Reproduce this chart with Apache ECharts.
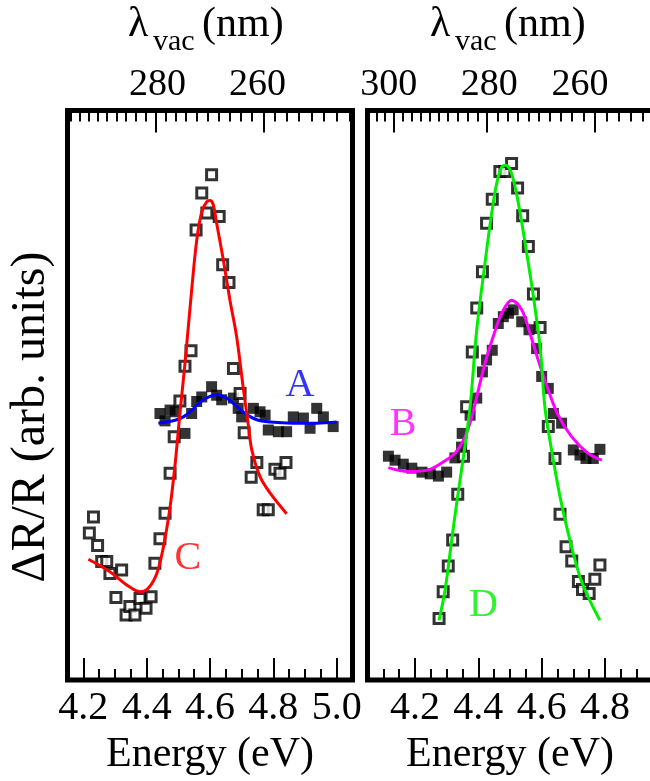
<!DOCTYPE html>
<html>
<head>
<meta charset="utf-8">
<script src="https://cdn.jsdelivr.net/npm/echarts@6/dist/echarts.min.js"></script>
<style>
  html, body { margin: 0; padding: 0; background: #fff; }
  #chart { width: 650px; height: 781px; }
  #fontwarm { position: absolute; left: -9999px; top: 0; font-family: 'Liberation Serif'; font-size: 40px; }
</style>
</head>
<body>
<div id="fontwarm">λΔ Energy (eV) 0123456789 vac nm arb. units ABCD</div>
<div id="chart"></div>
<script>
// ---- data: [energy (eV), dR/R (arb.)] ----
// left panel, filled squares (A)
const dataA = [
  [4.442, 46.8], [4.458, 45.5], [4.474, 47.4], [4.490, 47.1], [4.521, 43.3],
  [4.542, 46.8], [4.558, 48.9], [4.574, 49.7], [4.605, 51.5], [4.621, 50.0],
  [4.637, 49.2], [4.674, 49.5], [4.689, 47.7], [4.700, 46.2], [4.737, 47.7],
  [4.758, 47.1], [4.774, 46.5], [4.784, 43.9], [4.816, 43.6], [4.842, 43.6],
  [4.863, 46.2], [4.895, 46.0], [4.916, 44.2], [4.937, 47.7], [4.958, 46.2],
  [4.989, 44.5]
];
// left panel, open squares (C)
const dataC = [
  [4.219, 25.8], [4.232, 28.6], [4.245, 23.6], [4.258, 20.8], [4.274, 20.8],
  [4.284, 18.7], [4.303, 14.5], [4.321, 19.3], [4.335, 11.4], [4.347, 12.9],
  [4.363, 11.4], [4.379, 14.3], [4.398, 12.6], [4.414, 14.6], [4.426, 20.5],
  [4.442, 24.8], [4.458, 29.3], [4.474, 36.3], [4.487, 42.7], [4.505, 49.0],
  [4.521, 55.1], [4.540, 57.8], [4.556, 79.0], [4.574, 85.5], [4.590, 82.0],
  [4.605, 88.7], [4.629, 81.4], [4.640, 72.9], [4.660, 69.8], [4.674, 54.7],
  [4.695, 50.3], [4.708, 43.4], [4.730, 35.6], [4.748, 38.2], [4.768, 29.9],
  [4.784, 29.9], [4.805, 37.0], [4.821, 36.3], [4.840, 38.2]
];
// fitted curves, left panel
const fitA = [
  [4.437, 45.1], [4.490, 45.6], [4.516, 46.2], [4.547, 47.6], [4.579, 49.2],
  [4.621, 50.1], [4.653, 49.5], [4.679, 48.3], [4.711, 46.8], [4.748, 45.7],
  [4.790, 45.3], [4.862, 45.1], [4.937, 45.1], [5.000, 45.3]
];
const fitC = [
  [4.216, 21.2], [4.284, 19.0], [4.337, 16.7], [4.379, 15.5], [4.405, 16.1],
  [4.432, 18.7], [4.453, 23.4], [4.474, 30.4], [4.490, 38.0], [4.505, 46.8],
  [4.521, 55.6], [4.542, 68.4], [4.558, 77.2], [4.574, 82.2], [4.590, 84.0],
  [4.600, 84.2], [4.610, 83.5], [4.621, 80.2], [4.642, 73.8], [4.663, 66.7],
  [4.684, 60.3], [4.705, 51.3], [4.721, 44.8], [4.732, 40.4], [4.758, 35.7],
  [4.790, 32.8], [4.842, 29.2]
];
// right panel, filled squares (B)
const dataB = [
  [4.116, 39.3], [4.137, 38.6], [4.163, 37.9], [4.190, 37.2], [4.222, 36.5],
  [4.248, 36.2], [4.274, 35.8], [4.300, 36.5], [4.326, 39.0], [4.347, 40.9],
  [4.349, 43.3], [4.374, 46.5], [4.395, 49.5], [4.413, 54.1], [4.426, 56.2],
  [4.444, 57.9], [4.463, 62.6], [4.479, 63.8], [4.495, 64.4], [4.510, 65.0],
  [4.537, 62.9], [4.560, 61.5], [4.584, 58.2], [4.600, 53.3], [4.621, 51.2],
  [4.637, 46.8], [4.663, 45.1], [4.700, 40.4], [4.721, 39.5], [4.740, 38.9],
  [4.763, 38.9], [4.784, 40.5]
];
// right panel, open squares (D)
const dataD = [
  [4.276, 10.8], [4.289, 15.5], [4.305, 20.0], [4.319, 24.6], [4.335, 32.6],
  [4.353, 39.3], [4.363, 48.0], [4.381, 57.6], [4.395, 65.3], [4.413, 71.7],
  [4.426, 80.2], [4.444, 84.4], [4.468, 89.3], [4.484, 89.3], [4.505, 90.7],
  [4.524, 86.4], [4.540, 81.5], [4.558, 76.1], [4.574, 67.8], [4.595, 61.9],
  [4.621, 44.5], [4.642, 38.9], [4.658, 29.1], [4.677, 23.4], [4.695, 20.9],
  [4.716, 17.3], [4.729, 15.9], [4.750, 15.2], [4.768, 17.7], [4.784, 20.2]
];
// fitted curves, right panel
const fitB = [
  [4.116, 37.3], [4.179, 36.6], [4.242, 36.9], [4.284, 38.1], [4.326, 39.8],
  [4.358, 42.7], [4.379, 46.2], [4.400, 50.9], [4.421, 55.6], [4.447, 60.3],
  [4.474, 64.4], [4.505, 66.7], [4.537, 65.0], [4.563, 60.9], [4.589, 56.2],
  [4.621, 50.9], [4.652, 46.5], [4.695, 42.7], [4.747, 39.8], [4.790, 38.6]
];
const fitD = [
  [4.276, 10.5], [4.295, 15.8], [4.316, 24.6], [4.333, 31.6], [4.353, 39.2],
  [4.374, 48.0], [4.395, 61.5], [4.421, 73.2], [4.442, 81.9], [4.458, 87.2],
  [4.474, 90.1], [4.484, 90.4], [4.500, 89.6], [4.516, 86.6], [4.532, 82.0],
  [4.553, 74.9], [4.574, 67.3], [4.595, 58.5], [4.610, 48.0], [4.626, 42.1],
  [4.658, 32.2], [4.689, 24.6], [4.721, 18.1], [4.752, 14.0], [4.784, 10.5]
];
// curve labels [name, energy, value, colour]
const labelsL = [['A', 4.884, 51.7, '#0000ff'], ['C', 4.530, 21.3, '#ff0000']];
const labelsR = [['B', 4.162, 44.9, '#ff00ff'], ['D', 4.416, 13.1, '#00ee00']];

// ---- ticks ----
const eMajorL = [4.2, 4.4, 4.6, 4.8, 5.0];
const eMinorL = [4.25, 4.3, 4.35, 4.45, 4.5, 4.55, 4.65, 4.7, 4.75, 4.85, 4.9, 4.95];
const eMajorR = [4.2, 4.4, 4.6, 4.8];
const eMinorR = [4.1, 4.15, 4.25, 4.3, 4.35, 4.45, 4.5, 4.55, 4.65, 4.7, 4.75, 4.85, 4.9];
const nmMajorL = [280, 260];
const nmMinorL = [298, 296, 294, 292, 290, 288, 286, 284, 282, 278, 276, 274, 272, 270,
  268, 266, 264, 262, 258, 256, 254, 252, 250, 248, 246];
const nmMajorR = [300, 280, 260];
const nmMinorR = [304, 302, 298, 296, 294, 292, 290, 288, 286, 284, 282, 278, 276, 274,
  272, 270, 268, 266, 264, 262, 258, 256, 254, 252];
// small horizontal nudges of the wavelength labels (px, + = right)
const nmShiftL = { 280: 2, 260: -6 };
const nmShiftR = { 300: -5, 280: 2, 260: -15 };

const HC = 1239.84; // eV*nm
const toE = nm => HC / nm;
const serif = 'Liberation Serif';

const chart = echarts.init(document.getElementById('chart'), null, { renderer: 'canvas' });

function xAxes(grid, min, max, eMajor, eMinor, nmMajor, nmMinor, shift) {
  const base = {
    gridIndex: grid, type: 'value', min: min, max: max,
    axisLine: { show: false, onZero: false },
    splitLine: { show: false }
  };
  const tick = (len, vals) => ({
    inside: true, length: len, customValues: vals,
    lineStyle: { color: '#000', width: 2 }
  });
  const rich = {};
  nmMajor.forEach(nm => {
    const s = shift[nm] || 0;
    rich['n' + nm] = {
      fontSize: 38, fontFamily: serif, color: '#000',
      padding: s > 0 ? [0, 0, 0, 2 * s] : [0, -2 * s, 0, 0]
    };
  });
  return [
    Object.assign({}, base, {
      position: 'bottom',
      axisTick: tick(22, eMajor),
      axisLabel: {
        customValues: eMajor, formatter: v => v.toFixed(1),
        fontSize: 40, fontFamily: serif, color: '#000', margin: 8
      },
      name: 'Energy (eV)', nameLocation: 'middle', nameGap: 54,
      nameTextStyle: { fontSize: 42, fontFamily: serif, color: '#000' }
    }),
    Object.assign({}, base, {
      position: 'bottom', axisTick: tick(11, eMinor), axisLabel: { show: false }
    }),
    Object.assign({}, base, {
      position: 'top',
      axisTick: tick(22, nmMajor.map(toE)),
      axisLabel: {
        customValues: nmMajor.map(toE),
        formatter: v => { const nm = Math.round(HC / v); return '{n' + nm + '|' + nm + '}'; },
        rich: rich,
        fontSize: 38, fontFamily: serif, color: '#000', margin: 6
      }
    }),
    Object.assign({}, base, {
      position: 'top', axisTick: tick(11, nmMinor.map(toE)), axisLabel: { show: false }
    })
  ];
}

function yAxis(grid) {
  return {
    gridIndex: grid, type: 'value', min: 0, max: 100,
    axisLine: { show: false, onZero: false }, axisTick: { show: false },
    axisLabel: { show: false }, splitLine: { show: false }
  };
}

function filled(x, y, data) {
  return {
    type: 'scatter', xAxisIndex: x, yAxisIndex: y, data: data,
    symbol: 'rect', symbolSize: 11, itemStyle: { color: '#000' }, z: 2
  };
}
function open(x, y, data) {
  return {
    type: 'scatter', xAxisIndex: x, yAxisIndex: y, data: data,
    symbol: 'rect', symbolSize: 10,
    itemStyle: { color: '#fff', borderColor: '#000', borderWidth: 3 }, z: 3
  };
}
function fit(x, y, data, color) {
  return {
    type: 'line', xAxisIndex: x, yAxisIndex: y, data: data, smooth: 0.35,
    showSymbol: false, lineStyle: { color: color, width: 3 }, z: 4
  };
}
function labels(x, y, list) {
  return {
    type: 'scatter', xAxisIndex: x, yAxisIndex: y, symbolSize: 1,
    itemStyle: { color: 'transparent' }, z: 5,
    data: list.map(l => ({
      name: l[0], value: [l[1], l[2]],
      label: { show: true, position: 'inside', formatter: '{b}', color: l[3],
        fontSize: 40, fontFamily: serif }
    }))
  };
}

function txt(x, y, text, size, extra) {
  return Object.assign({
    type: 'text', x: x, y: y,
    style: { text: text, fontSize: size, fontFamily: serif, fill: '#000' }
  }, extra || {});
}
function titleNm(x0) {
  return [
    txt(x0, 4, 'λ', 42),
    txt(x0 + 25, 27, 'vac', 30),
    txt(x0 + 74, 4, '(nm)', 42)
  ];
}

const gridBase = {
  top: 110.5, height: 569.5, width: 285, show: true,
  borderColor: '#000', borderWidth: 5, backgroundColor: 'transparent',
  outerBoundsMode: 'none', containLabel: false
};

const option = {
  animation: false,
  backgroundColor: '#fff',
  textStyle: { fontFamily: serif },
  grid: [
    Object.assign({ left: 67.5 }, gridBase),
    Object.assign({ left: 367.5 }, gridBase)
  ],
  xAxis: xAxes(0, 4.15, 5.05, eMajorL, eMinorL, nmMajorL, nmMinorL, nmShiftL)
    .concat(xAxes(1, 4.05, 4.95, eMajorR, eMinorR, nmMajorR, nmMinorR, nmShiftR)),
  yAxis: [yAxis(0), yAxis(1)],
  graphic: titleNm(128).concat(titleNm(430)).concat([
    txt(31, 417, '', 48, {
      rotation: Math.PI / 2,
      style: { text: 'ΔR/R (arb. units)', fontSize: 48, fontFamily: serif, fill: '#000',
        align: 'center', verticalAlign: 'middle' }
    })
  ]),
  series: [
    filled(0, 0, dataA),
    open(0, 0, dataC),
    fit(0, 0, fitA, '#0000ff'),
    fit(0, 0, fitC, '#ff0000'),
    labels(0, 0, labelsL),
    filled(4, 1, dataB),
    open(4, 1, dataD),
    fit(4, 1, fitB, '#ff00ff'),
    fit(4, 1, fitD, '#00ee00'),
    labels(4, 1, labelsR)
  ]
};
chart.setOption(option);

// redraw once the serif face is surely available to the canvas
if (document.fonts && document.fonts.load) {
  document.fonts.load('40px "Liberation Serif"').then(() => {
    chart.clear();
    chart.setOption(option);
  });
}
</script>
</body>
</html>
